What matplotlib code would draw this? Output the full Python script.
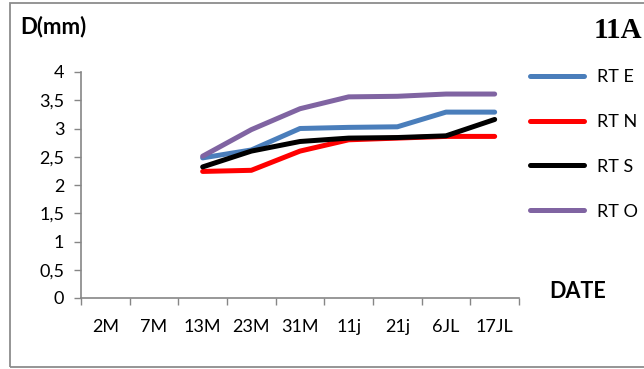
import numpy as np
import matplotlib
matplotlib.use("Agg")
import matplotlib.pyplot as plt
from matplotlib.patches import Rectangle

dates = ["2M", "7M", "13M", "23M", "31M", "11j", "21j", "6JL", "17JL"]
nan = np.nan
rt_e = [nan, nan, 2.48, 2.62, 3.00, 3.02, 3.03, 3.29, 3.29]
rt_n = [nan, nan, 2.24, 2.26, 2.60, 2.80, 2.83, 2.86, 2.86]
rt_s = [nan, nan, 2.32, 2.60, 2.77, 2.83, 2.84, 2.87, 3.16]
rt_o = [nan, nan, 2.51, 2.98, 3.35, 3.56, 3.57, 3.61, 3.61]

series = [("RT E", rt_e, "#4A7EBB"), ("RT N", rt_n, "#FF0000"),
          ("RT S", rt_s, "#000000"), ("RT O", rt_o, "#8064A2")]

plt.rcParams['font.family'] = ['Lato', 'DejaVu Sans']

W, H = 644, 369
fig = plt.figure(figsize=(W / 100, H / 100), dpi=100)
ax = fig.add_axes([81 / W, 1 - 298 / H, (519 - 81) / W, (298 - 72) / H])

x = np.arange(len(dates))
for name, vals, col in series:
    ax.plot(x, vals, color=col, lw=3.6, label=name,
            solid_capstyle='round', solid_joinstyle='round')

ax.set_xlim(-0.5, len(dates) - 0.5)
ax.set_ylim(0, 4)
yt = np.arange(0, 4.01, 0.5)
ax.set_yticks(yt)
ax.set_yticklabels([("%g" % v).replace(".", ",") for v in yt])
ax.set_xticks(x)
ax.set_xticklabels(dates)
ax.set_xticks(np.arange(-0.5, len(dates)), minor=True)
ax.tick_params(axis='x', which='major', length=0, pad=15, labelsize=13)
ax.tick_params(axis='x', which='minor', length=5, color='#868686', width=1)
ax.tick_params(axis='y', length=5, color='#868686', width=1, pad=7, labelsize=13)

for s in ['top', 'right']:
    ax.spines[s].set_visible(False)
for s in ['left', 'bottom']:
    ax.spines[s].set_color('#868686')
    ax.spines[s].set_linewidth(1.2)

ax.legend(loc='upper left', bbox_to_anchor=(530 / W, 1 - 69 / H),
          bbox_transform=fig.transFigure, frameon=False, fontsize=13,
          handlelength=3.0, handletextpad=0.7, labelspacing=1.6,
          borderpad=0, borderaxespad=0)

fig.text(20 / W, 1 - 27 / H, "D(mm)", fontsize=16, fontweight='bold', va='center')
fig.text(594 / W, 1 - 30 / H, "11A", fontsize=21, fontweight='bold',
         family='Liberation Serif', va='center')
fig.text(578 / W, 1 - 292 / H, "DATE", fontsize=15.5, fontweight='bold',
         ha='center', va='center')

fig.add_artist(Rectangle((10 / W, 1 - 367 / H), 1, 364 / H, transform=fig.transFigure,
                         fill=False, edgecolor='#8c8c8c', lw=1.3))

fig.savefig("out.png", dpi=100)
